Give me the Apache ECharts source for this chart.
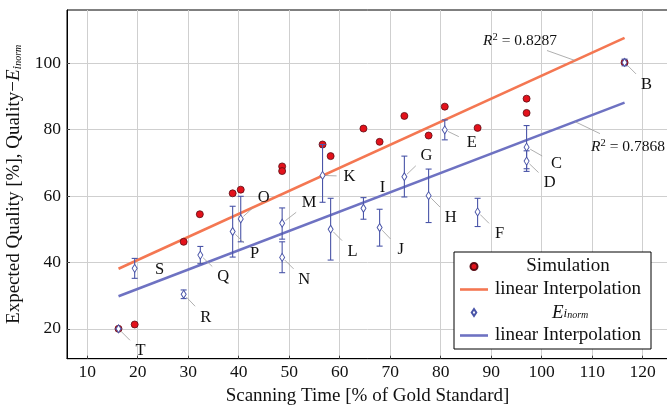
<!DOCTYPE html>
<html><head><meta charset="utf-8">
<script src="https://cdn.jsdelivr.net/npm/echarts@6/dist/echarts.min.js"></script>
<style>html,body{margin:0;padding:0;background:#fff}#c{width:667px;height:406px}</style>
</head><body><div id="c"></div>
<script>
// ---------------- data ----------------
const simX = [16.2, 19.4, 29.1, 32.3, 38.8, 40.4, 48.6, 48.6, 56.6, 58.2, 64.7, 67.9, 72.8, 77.6, 80.8, 87.3, 97.0, 97.0, 116.4];
const simY = [20.0, 21.3, 46.2, 54.5, 60.8, 61.9, 68.9, 67.5, 75.5, 72.0, 80.3, 76.3, 84.1, 78.2, 86.9, 80.5, 89.3, 85.0, 100.2];

const eLabels = ['B', 'C', 'D', 'E', 'F', 'G', 'H', 'I', 'J', 'K', 'L', 'M', 'N', 'O', 'P', 'Q', 'R', 'S', 'T'];
const eX    = [116.4, 97.0, 97.0, 80.8, 87.3, 72.8, 77.6, 64.7, 67.9, 56.6, 58.2, 48.6, 48.6, 40.4, 38.8, 32.4, 29.1, 19.4, 16.2];
const eY    = [100.2, 74.7, 70.5, 79.9, 55.2, 65.8, 60.1, 56.3, 50.5, 66.2, 50.0, 51.8, 41.5, 53.1, 49.3, 42.2, 30.4, 38.2, 20.0];
const eLow  = [ 99.2, 68.2, 67.4, 76.9, 50.8, 59.7, 52.0, 53.0, 44.9, 58.1, 40.7, 47.0, 36.9, 46.2, 41.6, 39.6, 29.1, 35.2, 20.0];
const eHigh = [101.2, 81.2, 73.6, 82.9, 59.3, 72.0, 68.1, 59.5, 56.0, 75.5, 59.3, 56.4, 46.2, 59.9, 56.9, 44.8, 31.7, 41.2, 20.0];

const fitX    = [16.2, 116.4];
const fitSimY = [38.1, 107.6];
const fitEY   = [29.8, 88.1];
const r2Values = ['0.8287', '0.7868'];

const xTickValues = [10, 20, 30, 40, 50, 60, 70, 80, 90, 100, 110, 120];
const yTickValues = [20, 40, 60, 80, 100];

// ---------------- styling ----------------
const FONT = '"Liberation Serif", "DejaVu Serif", serif';
const FS = 17.5;   // tick labels
const FT = 19;     // titles & legend
const C_RED = '#e3121b', C_RED_B = '#5a0c14';
const C_ORANGE = '#f47752', C_BLUE_LINE = '#6e72c2', C_BLUE = '#4a55a8';
const labelOffsets = {
  B: [22, 22], C: [30, 17], D: [23, 22], E: [27, 13], F: [22, 22], G: [22, -21],
  H: [22, 22], I: [19, -21], J: [21, 22], K: [27, 1], L: [22, 22], M: [27, -21],
  N: [22, 22], O: [23, -21], P: [22, 22], Q: [23, 22], R: [22, 23], S: [25, 1], T: [22, 22]
};
const noLeader = { S: true, I: true };
const r2Style = [ { frac: 0.902, label: [-55, -20], lead: [-28, -10] },
                  { frac: 0.902, label: [53, 25], lead: [25, 12] } ];

const simData = simX.map((x, i) => [x, simY[i]]);
const eData = eX.map((x, i) => [x, eY[i]]);
const errData = eX.map((x, i) => [x, eLow[i], eHigh[i]]);
const fitSim = fitX.map((x, i) => [x, fitSimY[i]]);
const fitE = fitX.map((x, i) => [x, fitEY[i]]);
const fits = [fitSimY, fitEY];
const r2Data = r2Style.map((s, k) => [
  fitX[0] + s.frac * (fitX[1] - fitX[0]),
  fits[k][0] + s.frac * (fits[k][1] - fits[k][0]), k]);

const subRich = (main) => ({
  e: { fontFamily: FONT, fontSize: FT, fontStyle: 'italic', lineHeight: main, verticalAlign: 'middle', color: '#111' },
  i: { fontFamily: FONT, fontSize: 13, fontStyle: 'italic', lineHeight: main - 10, verticalAlign: 'bottom', color: '#111' },
  n: { fontFamily: FONT, fontSize: 10, fontStyle: 'italic', lineHeight: 2, verticalAlign: 'bottom', color: '#111' }
});

const chart = echarts.init(document.getElementById('c'), null, { renderer: 'canvas' });
const yRich = subRich(20);
yRich.a = { fontFamily: FONT, fontSize: FT, lineHeight: 20, verticalAlign: 'middle', color: '#111' };
const legRich = subRich(16);
legRich.t = { fontFamily: FONT, fontSize: FT, width: 150, align: 'center', lineHeight: 16, verticalAlign: 'middle', color: '#111' };
legRich.p = { width: 59, lineHeight: 16 };

const legendNames = {
  'Simulation': '{t|Simulation}',
  'linear Interpolation': '{t|linear Interpolation}',
  'E': '{p|}{e|E}{i|i}{n|norm}',
  'linear Interpolation ': '{t|linear Interpolation}'
};
const LINE_ICON = 'path://M0,0 M28,7 M0,2.2 L28,2.2 L28,4.8 L0,4.8 Z';

chart.setOption({
  animation: false,
  backgroundColor: '#fff',
  grid: { left: 67, top: 10, right: -1, bottom: 47.3, show: true, borderColor: '#000', borderWidth: 1,
          containLabel: false, outerBoundsMode: 'none' },
  xAxis: {
    type: 'value', min: 6, max: 125,
    name: 'Scanning Time [% of Gold Standard]', nameLocation: 'middle', nameGap: 26,
    nameTextStyle: { fontFamily: FONT, fontSize: FT, color: '#111' },
    axisLine: { show: true, lineStyle: { color: '#000', width: 1 } },
    axisTick: { show: true, inside: true, length: 3, lineStyle: { color: '#444' }, customValues: xTickValues },
    axisLabel: { fontFamily: FONT, fontSize: FS, color: '#111', margin: 5, customValues: xTickValues },
    splitLine: { show: true, lineStyle: { color: '#cfcfcf', width: 1 } }
  },
  yAxis: {
    type: 'value', min: 11, max: 116,
    name: '{a|Expected Quality [%], Quality\u2212}{e|E}{i|i}{n|norm}', nameLocation: 'middle', nameGap: 36,
    nameTextStyle: { fontFamily: FONT, fontSize: FT, color: '#111', rich: yRich },
    axisLine: { show: true, lineStyle: { color: '#000', width: 1 } },
    axisTick: { show: true, inside: true, length: 3, lineStyle: { color: '#444' }, customValues: yTickValues },
    axisLabel: { fontFamily: FONT, fontSize: FS, color: '#111', margin: 6, customValues: yTickValues },
    splitLine: { show: true, lineStyle: { color: '#cfcfcf', width: 1 } }
  },
  legend: {
    orient: 'vertical', left: 454, top: 252,
    borderColor: '#000', borderWidth: 1, padding: [5, 8, 4, 6],
    itemWidth: 28, itemHeight: 7, itemGap: 4,
    backgroundColor: '#fff',
    data: [
      { name: 'Simulation' },
      { name: 'linear Interpolation', icon: LINE_ICON },
      { name: 'E', icon: 'path://M0,0 M28,8 M14,0 L16.6,4 L14,8 L11.4,4 Z' },
      { name: 'linear Interpolation ', icon: LINE_ICON }
    ],
    formatter: (n) => legendNames[n],
    textStyle: { fontFamily: FONT, fontSize: FT, color: '#111', rich: legRich }
  },
  series: [
    { name: 'linear Interpolation', type: 'line', data: fitSim, symbol: 'none', z: 2,
      lineStyle: { color: C_ORANGE, width: 2.6 }, itemStyle: { color: C_ORANGE } },
    { name: 'linear Interpolation ', type: 'line', data: fitE, symbol: 'none', z: 2,
      lineStyle: { color: C_BLUE_LINE, width: 2.6 }, itemStyle: { color: C_BLUE_LINE } },
    { name: 'Simulation', type: 'scatter', data: simData, symbol: 'circle', symbolSize: 7, z: 3,
      itemStyle: { color: C_RED, borderColor: C_RED_B, borderWidth: 0.8, opacity: 1 } },
    { name: 'errbars', type: 'custom', data: errData, z: 4, silent: true,
      renderItem: (params, api) => {
        const x = api.value(0);
        const lo = api.coord([x, api.value(1)]);
        const hi = api.coord([x, api.value(2)]);
        const w = 3;
        const st = { stroke: C_BLUE, lineWidth: 1.1 };
        return { type: 'group', children: [
          { type: 'line', shape: { x1: lo[0], y1: lo[1], x2: hi[0], y2: hi[1] }, style: st },
          { type: 'line', shape: { x1: lo[0] - w, y1: lo[1], x2: lo[0] + w, y2: lo[1] }, style: st },
          { type: 'line', shape: { x1: hi[0] - w, y1: hi[1], x2: hi[0] + w, y2: hi[1] }, style: st }
        ] };
      } },
    { name: 'E', type: 'scatter', data: eData, symbol: 'diamond', symbolSize: [5, 8], z: 5,
      itemStyle: { color: '#ffffff', borderColor: C_BLUE, borderWidth: 1, opacity: 1 } },
    { name: 'pointLabels', type: 'custom', data: eData, z: 6, silent: true,
      renderItem: (params, api) => {
        const p = api.coord([api.value(0), api.value(1)]);
        const lab = eLabels[params.dataIndex];
        const o = labelOffsets[lab];
        const ch = [{ type: 'text', x: p[0] + o[0], y: p[1] + o[1],
          style: { text: lab, fill: '#111', fontFamily: FONT, fontSize: 16.5, align: 'center', verticalAlign: 'middle' } }];
        if (!noLeader[lab]) ch.unshift({ type: 'line',
          shape: { x1: p[0] + o[0] * 0.12, y1: p[1] + o[1] * 0.12, x2: p[0] + o[0] * 0.52, y2: p[1] + o[1] * 0.52 },
          style: { stroke: '#9a9a9a', lineWidth: 0.8 } });
        return { type: 'group', children: ch };
      } },
    { name: 'r2', type: 'custom', data: r2Data, z: 6, silent: true,
      renderItem: (params, api) => {
        const p = api.coord([api.value(0), api.value(1)]);
        const s = r2Style[params.dataIndex];
        return { type: 'group', children: [
          { type: 'line', shape: { x1: p[0], y1: p[1], x2: p[0] + s.lead[0], y2: p[1] + s.lead[1] },
            style: { stroke: '#9a9a9a', lineWidth: 0.8 } },
          { type: 'text', x: p[0] + s.label[0], y: p[1] + s.label[1],
            style: { text: '{r|R}{s|2}{v| = ' + r2Values[params.dataIndex] + '}', align: 'center', verticalAlign: 'middle',
              rich: {
                r: { fontFamily: FONT, fontSize: 15.5, fontStyle: 'italic', lineHeight: 18, verticalAlign: 'middle', fill: '#111' },
                s: { fontFamily: FONT, fontSize: 10.5, lineHeight: 8, verticalAlign: 'top', fill: '#111' },
                v: { fontFamily: FONT, fontSize: 15.5, lineHeight: 18, verticalAlign: 'middle', fill: '#111' }
              } } }
        ] };
      } }
  ]
});
</script></body></html>
